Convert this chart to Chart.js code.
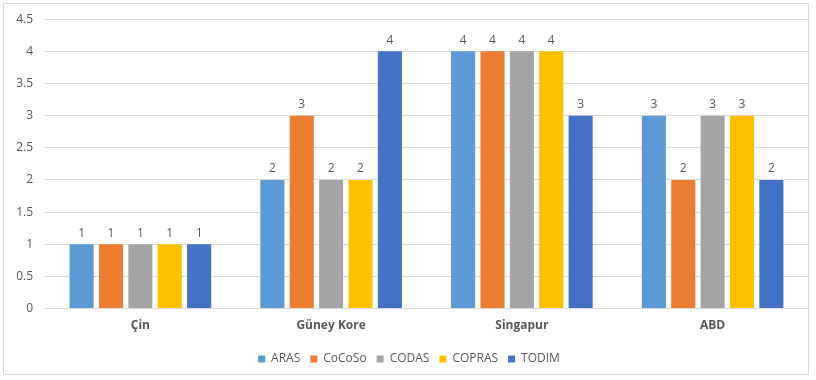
<!DOCTYPE html>
<html>
<head>
<meta charset="utf-8">
<script src="https://cdn.jsdelivr.net/npm/chart.js@4"></script>
<style>
  html, body { margin: 0; padding: 0; background: #fff; }
  #wrap { position: relative; width: 816px; height: 380px; }
  #frame { position: absolute; left: 3px; top: 3px; width: 806px; height: 372px; border: 1px solid #d9d9d9; box-sizing: border-box; }
  canvas { position: absolute; left: 0; top: 0; }
</style>
</head>
<body>
<div id="wrap">
  <div id="frame"></div>
  <canvas id="c" width="816" height="380"></canvas>
</div>
<script>
const categories = ['Çin', 'Güney Kore', 'Singapur', 'ABD'];
const seriesNames = ['ARAS', 'CoCoSo', 'CODAS', 'COPRAS', 'TODIM'];
const aras   = [1, 2, 4, 3];
const cocoso = [1, 3, 4, 2];
const codas  = [1, 2, 4, 3];
const copras = [1, 2, 4, 3];
const todim  = [1, 4, 3, 2];
const yTicks = [0, 0.5, 1, 1.5, 2, 2.5, 3, 3.5, 4, 4.5];

const colors = ['#5B9BD5', '#ED7D31', '#A5A5A5', '#FFC000', '#4472C4'];
const values = [aras, cocoso, codas, copras, todim];

const FONT = '"Open Sans", "Liberation Sans", sans-serif';
const TXT = '#595959';

// Value labels above each bar
const valueLabels = {
  id: 'valueLabels',
  afterDatasetsDraw(chart) {
    const ctx = chart.ctx;
    ctx.save();
    ctx.font = '12px ' + FONT;
    ctx.fillStyle = TXT;
    ctx.textAlign = 'center';
    ctx.textBaseline = 'bottom';
    chart.data.datasets.forEach((ds, i) => {
      chart.getDatasetMeta(i).data.forEach((bar, j) => {
        ctx.fillText(String(ds.data[j]), bar.x, bar.y - 5);
      });
    });
    ctx.restore();
  }
};

new Chart(document.getElementById('c'), {
  type: 'bar',
  data: {
    labels: categories,
    datasets: seriesNames.map((name, i) => ({
      label: name,
      data: values[i],
      backgroundColor: colors[i],
      borderWidth: 0,
      categoryPercentage: 0.77,
      barPercentage: 0.82
    }))
  },
  options: {
    responsive: false,
    animation: false,
    devicePixelRatio: 1,
    layout: { padding: { left: 10, right: 8, top: 5, bottom: 5 } },
    scales: {
      x: {
        grid: { display: false, drawTicks: false },
        border: { display: true, color: '#d9d9d9', width: 1 },
        ticks: { color: TXT, font: { family: FONT, size: 12, weight: 'bold' }, padding: 10 }
      },
      y: {
        min: 0,
        max: 4.5,
        afterBuildTicks(axis) { axis.ticks = yTicks.map(v => ({ value: v })); },
        afterFit(axis) { axis.width = 35; },
        grid: { color: '#d9d9d9', drawTicks: false },
        border: { display: false },
        ticks: {
          color: TXT,
          font: { family: FONT, size: 12 },
          padding: 12,
          callback: v => String(v)
        }
      }
    },
    plugins: {
      legend: {
        position: 'bottom',
        labels: {
          boxWidth: 7,
          boxHeight: 7,
          padding: 10,
          color: TXT,
          font: { family: FONT, size: 12 }
        }
      },
      tooltip: { enabled: false }
    }
  },
  plugins: [valueLabels]
});
</script>
</body>
</html>
